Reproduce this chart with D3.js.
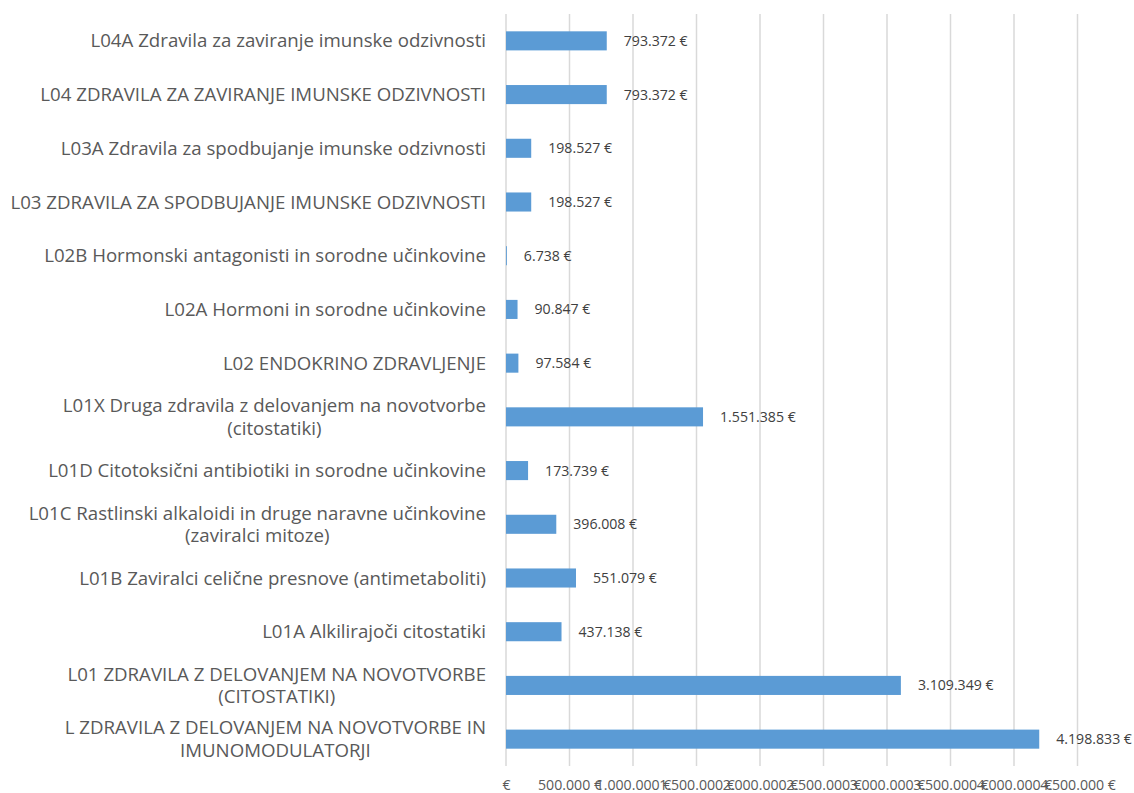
<!DOCTYPE html>
<html>
<head>
<meta charset="utf-8">
<script src="https://cdn.jsdelivr.net/npm/d3@7"></script>
<style>
  html, body { margin: 0; padding: 0; background: #fff; }
  svg { display: block; }
</style>
</head>
<body>
<svg id="chart" width="1134" height="793"></svg>
<script>
// ---- DATA ----
const categories = [
  "L04A Zdravila za zaviranje imunske odzivnosti",
  "L04 ZDRAVILA ZA ZAVIRANJE IMUNSKE ODZIVNOSTI",
  "L03A Zdravila za spodbujanje imunske odzivnosti",
  "L03 ZDRAVILA ZA SPODBUJANJE IMUNSKE ODZIVNOSTI",
  "L02B Hormonski antagonisti in sorodne učinkovine",
  "L02A Hormoni in sorodne učinkovine",
  "L02 ENDOKRINO ZDRAVLJENJE",
  "L01X Druga zdravila z delovanjem na novotvorbe\n(citostatiki)",
  "L01D Citotoksični antibiotiki in sorodne učinkovine",
  "L01C Rastlinski alkaloidi in druge naravne učinkovine\n(zaviralci mitoze)",
  "L01B Zaviralci celične presnove (antimetaboliti)",
  "L01A Alkilirajoči citostatiki",
  "L01 ZDRAVILA Z DELOVANJEM NA NOVOTVORBE\n(CITOSTATIKI)",
  "L ZDRAVILA Z DELOVANJEM NA NOVOTVORBE IN\nIMUNOMODULATORJI"
];
const values = [793372, 793372, 198527, 198527, 6738, 90847, 97584, 1551385, 173739, 396008, 551079, 437138, 3109349, 4198833];
const tickValues = [0, 500000, 1000000, 1500000, 2000000, 2500000, 3000000, 3500000, 4000000, 4500000];

// ---- LAYOUT ----
const svg = d3.select("#chart");
const FONT = "'Open Sans', Roboto, sans-serif";
const plotLeft = 506, plotRight = 1077.5, plotTop = 14, plotBottom = 766;

const locale = d3.formatLocale({decimal: ",", thousands: ".", grouping: [3], currency: ["", " €"]});
const fmt = locale.format("$,.0f");
const tickFmt = v => v === 0 ? "€" : fmt(v);

// fit font sizes to reference widths
function fitSize(text, targetW) {
  const t = svg.append("text").attr("font-family", FONT).attr("font-size", 100).text(text);
  const w = t.node().getComputedTextLength();
  t.remove();
  return 100 * targetW / w;
}
const catSize = (fitSize("L03 ZDRAVILA ZA SPODBUJANJE IMUNSKE ODZIVNOSTI", 478) +
                 fitSize("L04A Zdravila za zaviranje imunske odzivnosti", 394)) / 2;
const valSize = fitSize("793.372 €", 64);

const x = d3.scaleLinear().domain([0, 4500000]).range([plotLeft, plotRight]);
const pi = 0.645;
const y = d3.scaleBand().domain(categories).range([plotTop, plotBottom]).paddingInner(pi).paddingOuter(pi / 2);

// gridlines
svg.append("g").selectAll("line").data(tickValues).join("line")
  .attr("x1", d => x(d)).attr("x2", d => x(d))
  .attr("y1", plotTop).attr("y2", plotBottom)
  .attr("stroke", "#D9D9D9").attr("stroke-width", 1.5);

// x tick labels via axis
const xAxis = d3.axisBottom(x).tickValues(tickValues).tickFormat(tickFmt).tickSize(0).tickPadding(0);
const gx = svg.append("g").attr("transform", `translate(0,${plotBottom})`).call(xAxis);
gx.select(".domain").remove();
gx.selectAll("text")
  .attr("font-family", FONT).attr("font-size", valSize).attr("fill", "#595959")
  .attr("y", 24).attr("dy", 0);

// bars
svg.append("g").selectAll("rect").data(categories).join("rect")
  .attr("x", x(0))
  .attr("y", d => y(d))
  .attr("width", (d, i) => x(values[i]) - x(0))
  .attr("height", y.bandwidth())
  .attr("fill", "#5B9BD5");

// value labels
svg.append("g").selectAll("text").data(categories).join("text")
  .attr("x", (d, i) => x(values[i]) + 17)
  .attr("y", d => y(d) + y.bandwidth() / 2)
  .attr("dy", "0.35em")
  .attr("font-family", FONT).attr("font-size", valSize).attr("fill", "#404040")
  .text((d, i) => fmt(values[i]));

// category labels (right-aligned block, centered lines)
const labelRight = 486;
const lineH = 22.5;
const gl = svg.append("g");
categories.forEach(c => {
  const lines = c.split("\n");
  const cy = y(c) + y.bandwidth() / 2;
  const t = gl.append("text").attr("font-family", FONT).attr("font-size", catSize).attr("fill", "#595959");
  const spans = lines.map((ln, k) => t.append("tspan").text(ln)
      .attr("y", cy + (k - (lines.length - 1) / 2) * lineH).attr("dy", "0.35em"));
  const widths = spans.map(s => s.node().getComputedTextLength());
  const maxW = d3.max(widths);
  const cx = labelRight - maxW / 2;
  spans.forEach(s => s.attr("x", cx));
  t.attr("text-anchor", "middle");
});
</script>
</body>
</html>
